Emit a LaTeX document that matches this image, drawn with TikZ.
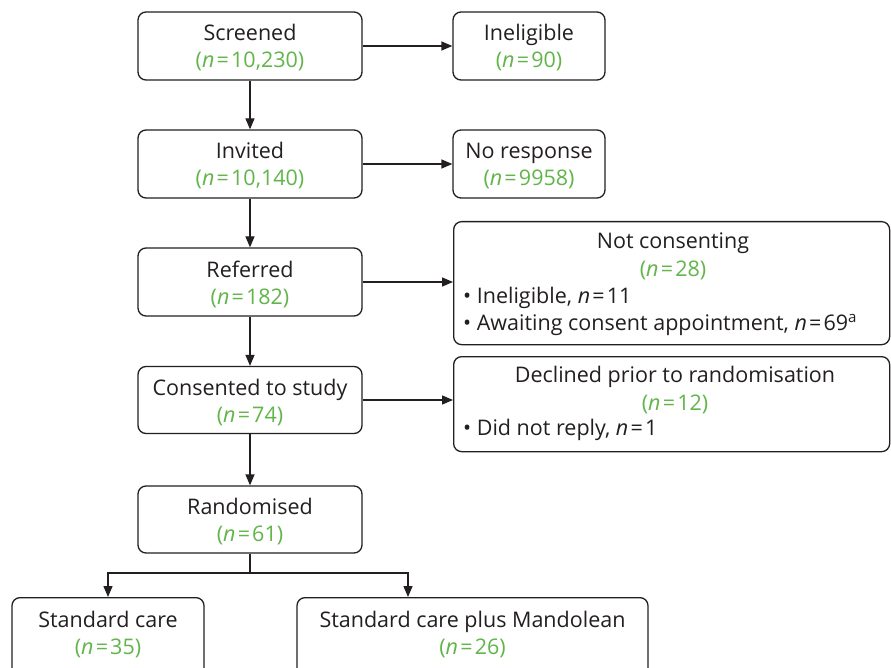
\documentclass[tikz,border=0pt]{standalone}
\usepackage{fontspec}
\setmainfont{Open Sans}
\usetikzlibrary{arrows.meta}
\definecolor{ink}{RGB}{35,31,32}
\definecolor{ngreen}{RGB}{98,181,74}
\newcommand{\nval}[1]{\textcolor{ngreen}{(\textit{n}\kern2.2pt=\kern2.2pt#1)}}
\newcommand{\nin}[1]{\textit{n}\kern2.2pt=\kern2.2pt#1}
\begin{document}
\begin{tikzpicture}[x=1pt,y=-1pt,
  box/.style={draw=ink, line width=1.3pt, rounded corners=8pt, inner sep=0pt,
    minimum width=224pt, minimum height=68pt, align=center, text=ink,
    font=\fontsize{21.5}{27}\selectfont},
  sidebox/.style={box, minimum width=152pt},
  txt/.style={inner sep=0pt, text=ink, font=\fontsize{21.5}{27}\selectfont},
  lbl/.style={text=ink, font=\fontsize{21.5}{27}\selectfont, align=center, inner sep=0pt},
  arr/.style={draw=ink, line width=1.3pt, -{Triangle[length=11pt,width=9pt]}}]
\clip (0,0) rectangle (891,668);
\fill[white] (0,0) rectangle (891,668);
% main column
\node[box] (scr) at (250,46) {};
\node[lbl] (scrt) at (250,48) {Screened\\\nval{10,230}};
\node[box] (inv) at (250,164) {};
\node[lbl] (invt) at (250,166) {Invited\\\nval{10,140}};
\node[box] (ref) at (250,282) {};
\node[lbl] (reft) at (250,284) {Referred\\\nval{182}};
\node[box, minimum height=67pt] (con) at (250,400) {};
\node[lbl] (cont) at (250,402.5) {Consented to study\\\nval{74}};
\node[box, minimum height=67pt] (ran) at (250,519.5) {};
\node[lbl] (rant) at (250,521.5) {Randomised\\\nval{61}};
% side boxes
\node[sidebox] (inel) at (529,46) {};
\node[lbl] (inelt) at (529,48) {Ineligible\\\nval{90}};
\node[sidebox] (nores) at (529,164) {};
\node[lbl] (norest) at (529,166) {No response\\\nval{9958}};
\node[box, minimum width=436pt, minimum height=123pt, anchor=north west] (nc) at (453,221) {};
\node[txt] (nct) at (673,243) {Not consenting};
\node[txt] (ncn) at (673,270) {\nval{28}};
\node[txt, anchor=west] (nc1) at (463,298) {\textbullet\ Ineligible, \nin{11}};
\node[txt, anchor=west] (nc2) at (463,325) {\textbullet\ Awaiting consent appointment, \nin{69}\textsuperscript{a}};
\node[box, minimum width=436pt, minimum height=95pt, anchor=north west] (dec) at (453,356) {};
\node[txt] (dect) at (675,377) {Declined prior to randomisation};
\node[txt] (decn) at (675,404) {\nval{12}};
\node[txt, anchor=west] (dec1) at (463,430) {\textbullet\ Did not reply, \nin{1}};
% bottom boxes
\node[box, minimum width=192pt, minimum height=80pt, anchor=north] (std) at (108,597) {};
\node[lbl] (stdt) at (108,635) {Standard care\\\nval{35}};
\node[box, minimum width=351pt, minimum height=80pt, anchor=north] (mand) at (472.5,597) {};
\node[lbl] (mandt) at (472.5,635) {Standard care plus Mandolean\\\nval{26}};
% connectors
\draw[arr] (scr) -- (inel);
\draw[arr] (inv) -- (nores);
\draw[arr] (scr) -- (inv);
\draw[arr] (inv) -- (ref);
\draw[arr] (ref) -- (con);
\draw[arr] (con) -- (ran);
\draw[arr] (ref.east) -- (ref.east -| nc.west);
\draw[arr] (con.east) -- (con.east -| dec.west);
\coordinate (split) at (250,573);
\draw[draw=ink, line width=1.3pt] (ran.south) -- (split);
\draw[arr] (split) -| (std.north);
\draw[arr] (split) -| ([xshift=-64.5pt]mand.north);
\end{tikzpicture}
\end{document}
